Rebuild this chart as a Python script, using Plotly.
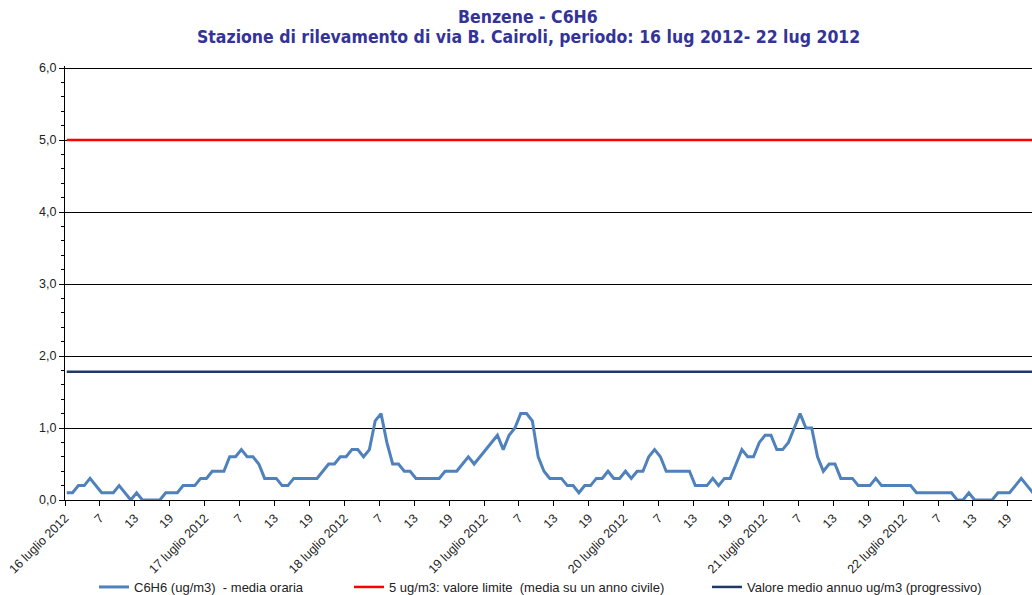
import plotly.graph_objects as go

# Hourly benzene concentrations (ug/m3), 16-22 luglio 2012 (168 hours)
c6h6 = [
    0.1, 0.1, 0.2, 0.2, 0.3, 0.2, 0.1, 0.1, 0.1, 0.2, 0.1, 0.0, 0.1, 0.0, 0.0, 0.0, 0.0, 0.1, 0.1, 0.1, 0.2, 0.2, 0.2, 0.3,
    0.3, 0.4, 0.4, 0.4, 0.6, 0.6, 0.7, 0.6, 0.6, 0.5, 0.3, 0.3, 0.3, 0.2, 0.2, 0.3, 0.3, 0.3, 0.3, 0.3, 0.4, 0.5, 0.5, 0.6,
    0.6, 0.7, 0.7, 0.6, 0.7, 1.1, 1.2, 0.8, 0.5, 0.5, 0.4, 0.4, 0.3, 0.3, 0.3, 0.3, 0.3, 0.4, 0.4, 0.4, 0.5, 0.6, 0.5, 0.6,
    0.7, 0.8, 0.9, 0.7, 0.9, 1.0, 1.2, 1.2, 1.1, 0.6, 0.4, 0.3, 0.3, 0.3, 0.2, 0.2, 0.1, 0.2, 0.2, 0.3, 0.3, 0.4, 0.3, 0.3,
    0.4, 0.3, 0.4, 0.4, 0.6, 0.7, 0.6, 0.4, 0.4, 0.4, 0.4, 0.4, 0.2, 0.2, 0.2, 0.3, 0.2, 0.3, 0.3, 0.5, 0.7, 0.6, 0.6, 0.8,
    0.9, 0.9, 0.7, 0.7, 0.8, 1.0, 1.2, 1.0, 1.0, 0.6, 0.4, 0.5, 0.5, 0.3, 0.3, 0.3, 0.2, 0.2, 0.2, 0.3, 0.2, 0.2, 0.2, 0.2,
    0.2, 0.2, 0.1, 0.1, 0.1, 0.1, 0.1, 0.1, 0.1, 0.0, 0.0, 0.1, 0.0, 0.0, 0.0, 0.0, 0.1, 0.1, 0.1, 0.2, 0.3, 0.2, 0.1, 0.1,
]
limit_value = 5.0          # valore limite (media su un anno civile)
annual_mean = 1.78         # valore medio annuo progressivo

days = ["16", "17", "18", "19", "20", "21", "22"]
hour_labels = ["7", "13", "19"]

title_lines = [
    "Benzene - C6H6",
    "Stazione di rilevamento di via B. Cairoli, periodo: 16 lug 2012- 22 lug 2012",
]
series_names = [
    "C6H6 (ug/m3)  - media oraria",
    "5 ug/m3: valore limite  (media su un anno civile)",
    "Valore medio annuo ug/m3 (progressivo)",
]

n = len(c6h6)
hours = list(range(n))
tickvals, ticktext = [], []
for d, day in enumerate(days):
    tickvals.append(d * 24 - 0.3)
    ticktext.append(f"{day} luglio 2012")
    for k, h in enumerate(hour_labels):
        tickvals.append(d * 24 + (k + 1) * 6 - 0.3)
        ticktext.append(h)

fig = go.Figure()
fig.add_trace(go.Scatter(x=hours, y=c6h6, mode="lines", name=series_names[0], showlegend=True,
                         line=dict(color="#4F81BD", width=3), legend="legend"))
fig.add_trace(go.Scatter(x=hours, y=[limit_value] * n, mode="lines", name=series_names[1], showlegend=True,
                         line=dict(color="#FF0000", width=2.5), legend="legend2"))
fig.add_trace(go.Scatter(x=hours, y=[annual_mean] * n, mode="lines", name=series_names[2], showlegend=True,
                         line=dict(color="#1F3864", width=2.5), legend="legend3"))

FONT = "Liberation Sans, Arial, sans-serif"
legend_font = dict(family=FONT, size=13, color="#222222")
def leg(xpx):
    return dict(x=xpx / 1032, y=(595 - 587) / 595, xref="container", yref="container",
                xanchor="left", yanchor="middle", orientation="h", font=legend_font,
                bgcolor="rgba(0,0,0,0)", itemwidth=30)

title_font = dict(family="DejaVu Sans Condensed, DejaVu Sans, sans-serif", size=17.5, color="#333399", weight="bold")
PL, PT, PW, PH = 65, 66, 967, 434
YMAX = 6 * PH / 432   # keep 72 px per unit with 6,0 gridline just inside the plot

fig.update_layout(
    width=1032, height=595,
    margin=dict(l=PL, r=0, t=PT, b=595 - PT - PH, autoexpand=False),
    paper_bgcolor="white", plot_bgcolor="white",
    separators=",.",
    showlegend=True,
    legend=leg(94), legend2=leg(349), legend3=leg(707),
    annotations=[
        dict(text=title_lines[0], x=(528 - PL) / PW, y=(PT + PH - 17) / PH, xref="paper", yref="paper",
             xanchor="center", yanchor="middle", showarrow=False, font=title_font),
        dict(text=title_lines[1], x=(528 - PL) / PW, y=(PT + PH - 37) / PH, xref="paper", yref="paper",
             xanchor="center", yanchor="middle", showarrow=False, font=title_font),
    ],
    xaxis=dict(
        range=[-0.3, -0.3 + PW / 5.82], tickmode="array", tickvals=tickvals, ticktext=ticktext,
        tickangle=-45, ticks="outside", ticklen=5, tickcolor="black", tickwidth=1,
        showgrid=False, showline=True, linecolor="black", linewidth=1, zeroline=False, automargin=False,
        tickfont=dict(family=FONT, size=12.5, color="#222222"),
    ),
    yaxis=dict(
        range=[0, YMAX], tickvals=[0, 1, 2, 3, 4, 5, 6], tickformat=".1f", ticks="outside", ticklen=5,
        tickcolor="black",
        showgrid=True, gridcolor="black", gridwidth=1, showline=True, linecolor="black", linewidth=1,
        zeroline=False, automargin=False,
        minor=dict(dtick=0.2, ticks="outside", ticklen=3, tickcolor="black", showgrid=False),
        tickfont=dict(family=FONT, size=12.5, color="#222222"),
    ),
)

fig.write_html("out.html", config={"displayModeBar": False},
               post_script="document.body.style.margin='0';document.body.style.overflow='hidden';")
